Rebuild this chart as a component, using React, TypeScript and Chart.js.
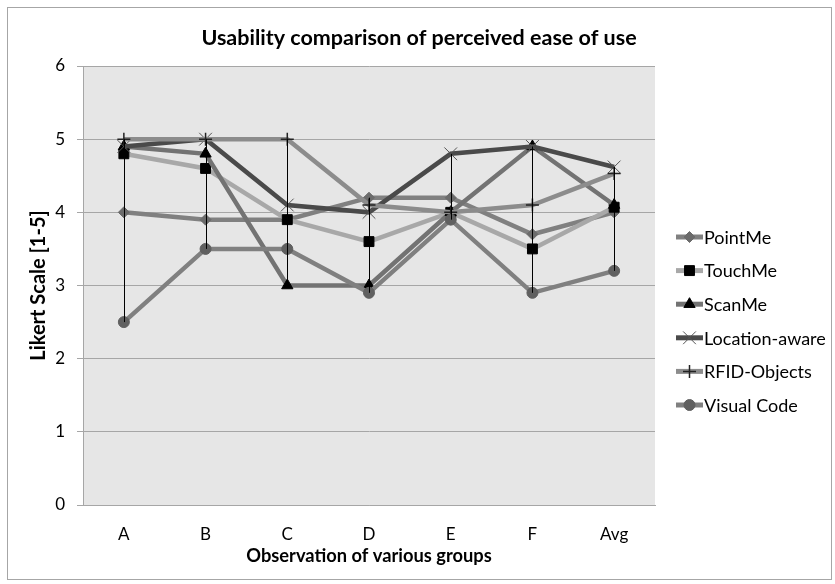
import React, { useEffect, useRef } from 'react';
import { Chart, registerables } from 'chart.js';

Chart.register(...registerables);

const titleText = 'Usability comparison of perceived ease of use';
const xTitle = 'Observation of various groups';
const yTitle = 'Likert Scale [1-5]';
const categories = ['A', 'B', 'C', 'D', 'E', 'F', 'Avg'];
const yTicks = [0, 1, 2, 3, 4, 5, 6];

const pointMe = [4.0, 3.9, 3.9, 4.2, 4.2, 3.7, 4.0];
const touchMe = [4.8, 4.6, 3.9, 3.6, 4.0, 3.5, 4.07];
const scanMe = [4.9, 4.8, 3.0, 3.0, 4.0, 4.9, 4.1];
const locationAware = [4.9, 5.0, 4.1, 4.0, 4.8, 4.9, 4.62];
const rfidObjects = [5.0, 5.0, 5.0, 4.1, 4.0, 4.1, 4.53];
const visualCode = [2.5, 3.5, 3.5, 2.9, 3.9, 2.9, 3.2];

const FONT = 'Lato, "Open Sans", sans-serif';

function drawMarker(ctx: CanvasRenderingContext2D, style: string, x: number, y: number, r: number, fill: string, stroke: string, lw: number) {
  ctx.save();
  ctx.fillStyle = fill;
  ctx.strokeStyle = stroke;
  ctx.lineWidth = lw;
  ctx.beginPath();
  if (style === 'rectRot') {
    ctx.moveTo(x, y - r); ctx.lineTo(x + r, y); ctx.lineTo(x, y + r); ctx.lineTo(x - r, y); ctx.closePath();
    ctx.fill(); ctx.stroke();
  } else if (style === 'rect') {
    const s = r * Math.SQRT1_2;
    ctx.rect(x - s, y - s, 2 * s, 2 * s); ctx.fill(); ctx.stroke();
  } else if (style === 'triangle') {
    ctx.moveTo(x, y - r); ctx.lineTo(x + r * 0.866, y + r / 2); ctx.lineTo(x - r * 0.866, y + r / 2); ctx.closePath();
    ctx.fill(); ctx.stroke();
  } else if (style === 'crossRot') {
    const s = r * Math.SQRT1_2;
    ctx.moveTo(x - s, y - s); ctx.lineTo(x + s, y + s); ctx.moveTo(x + s, y - s); ctx.lineTo(x - s, y + s); ctx.stroke();
  } else if (style === 'cross') {
    ctx.moveTo(x - r, y); ctx.lineTo(x + r, y); ctx.moveTo(x, y - r); ctx.lineTo(x, y + r); ctx.stroke();
  } else {
    ctx.arc(x, y, r, 0, Math.PI * 2); ctx.fill(); ctx.stroke();
  }
  ctx.restore();
}

const decorPlugin = {
  id: 'decor',
  beforeDraw(chart: any) {
    const { ctx, chartArea: a } = chart;
    ctx.save();
    ctx.fillStyle = '#ffffff';
    ctx.fillRect(0, 0, chart.width, chart.height);
    ctx.fillStyle = '#e6e6e6';
    ctx.fillRect(a.left, a.top, a.right - a.left, a.bottom - a.top);
    ctx.restore();
  },
  afterDatasetsDraw(chart: any) {
    const { ctx } = chart;
    const xs = chart.scales.x;
    const ys = chart.scales.y;
    ctx.save();
    ctx.strokeStyle = '#000000';
    ctx.lineWidth = 1;
    categories.forEach((_, i) => {
      const vals = chart.data.datasets.map((d: any) => d.data[i]);
      const hi = Math.max(...vals);
      const lo = Math.min(...vals);
      const x = Math.round(xs.getPixelForValue(i)) + 0.5;
      ctx.beginPath();
      ctx.moveTo(x, ys.getPixelForValue(hi));
      ctx.lineTo(x, ys.getPixelForValue(lo));
      ctx.stroke();
    });
    ctx.restore();
  },
  afterDraw(chart: any) {
    const { ctx } = chart;
    ctx.save();
    // title
    ctx.fillStyle = '#000';
    ctx.font = 'bold 21.5px ' + FONT;
    ctx.textAlign = 'center';
    ctx.textBaseline = 'middle';
    ctx.fillText(titleText, 419, 38);
    // legend
    ctx.font = '18px ' + FONT;
    ctx.textAlign = 'left';
    chart.data.datasets.forEach((d: any, i: number) => {
      const y = 237 + i * 33.6;
      ctx.strokeStyle = d.borderColor;
      ctx.lineWidth = 5;
      ctx.beginPath();
      ctx.moveTo(676, y);
      ctx.lineTo(703, y);
      ctx.stroke();
      drawMarker(ctx, d.pointStyle, 689.5, y, d.pointRadius, d.pointBackgroundColor, d.pointBorderColor, d.pointBorderWidth);
      ctx.fillStyle = '#000';
      ctx.fillText(d.label, 704, y + 1);
    });
    // frame
    ctx.strokeStyle = '#a6a6a6';
    ctx.lineWidth = 1;
    ctx.strokeRect(7.5, 7.5, 824, 572);
    ctx.restore();
  },
};

function series(label: string, data: number[], line: string, style: string, radius: number, fill: string, stroke: string, bw: number, order: number) {
  return {
    label,
    data,
    borderColor: line,
    borderWidth: 4.5,
    pointStyle: style,
    pointRadius: radius,
    pointBackgroundColor: fill,
    pointBorderColor: stroke,
    pointBorderWidth: bw,
    tension: 0,
    order,
  };
}

export default function App() {
  const ref = useRef<HTMLCanvasElement | null>(null);
  useEffect(() => {
    if (!ref.current) return;
    const chart = new Chart(ref.current, {
      type: 'line',
      data: {
        labels: categories,
        datasets: [
          series('PointMe', pointMe, '#808080', 'rectRot', 5.5, '#6b6b6b', '#6b6b6b', 1, 5),
          series('TouchMe', touchMe, '#a8a8a8', 'rect', 7, '#000000', '#000000', 1, 4),
          series('ScanMe', scanMe, '#737373', 'triangle', 6.5, '#000000', '#000000', 1, 3),
          series('Location-aware', locationAware, '#4a4a4a', 'crossRot', 9, '#555555', '#555555', 1, 2),
          series('RFID-Objects', rfidObjects, '#8c8c8c', 'cross', 6.5, '#222222', '#222222', 1.5, 1),
          series('Visual Code', visualCode, '#808080', 'circle', 5.5, '#606060', '#606060', 1, 0),
        ] as any,
      },
      options: {
        animation: false,
        responsive: true,
        maintainAspectRatio: false,
        layout: { padding: { left: 0, top: 66, right: 180, bottom: 0 } },
        plugins: {
          legend: { display: false },
          title: { display: false },
          tooltip: { enabled: false },
        },
        scales: {
          x: {
            type: 'category',
            offset: true,
            grid: { display: false, drawTicks: false },
            border: { display: true, color: '#a6a6a6' },
            ticks: { color: '#000', font: { family: FONT, size: 17 }, padding: 19, maxRotation: 0, autoSkip: false },
            title: { display: true, text: xTitle, color: '#000', font: { family: FONT, size: 18.3, weight: 'bold' }, padding: { top: 0, bottom: 17 } },
            afterFit: (s: any) => { s.height = 79; },
          },
          y: {
            min: 0,
            max: 6,
            afterBuildTicks: (s: any) => { s.ticks = yTicks.map((v) => ({ value: v })); },
            grid: { color: '#a6a6a6', lineWidth: 1, tickLength: 6, drawTicks: true },
            border: { display: true, color: '#a6a6a6' },
            ticks: { color: '#000', font: { family: FONT, size: 17 }, padding: 12 },
            title: { display: true, text: yTitle, color: '#000', font: { family: FONT, size: 20, weight: 'bold' }, padding: { top: 27, bottom: 0 } },
            afterFit: (s: any) => { s.width = 83; },
          },
        },
      } as any,
      plugins: [decorPlugin],
    });
    return () => chart.destroy();
  }, []);
  return (
    <div style={{ position: 'absolute', left: 0, top: 0, width: 835, height: 584 }}>
      <canvas ref={ref} />
    </div>
  );
}
